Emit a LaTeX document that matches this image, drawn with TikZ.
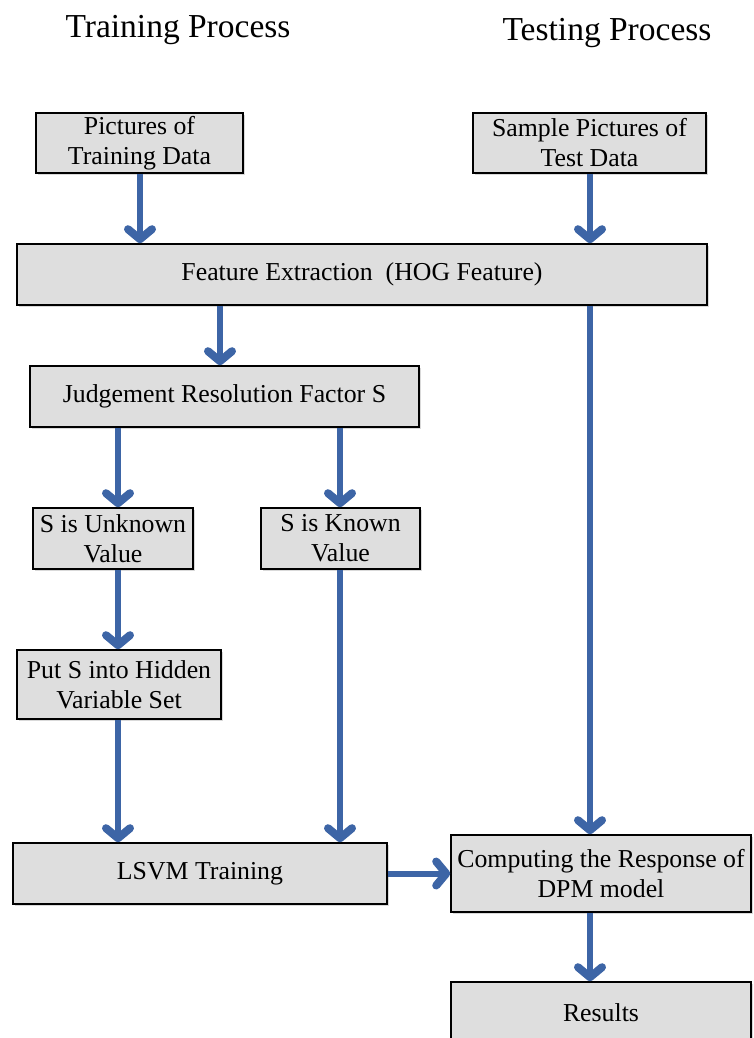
\documentclass[tikz,border=0pt]{standalone}
\usepackage{fontspec}
\setmainfont{Liberation Serif}
\usetikzlibrary{arrows.meta,shadows}
\definecolor{arrowblue}{RGB}{61,101,166}
\definecolor{boxgray}{RGB}{222,222,222}
\newcommand\myboxfont{\fontsize{25.8}{30}\selectfont}
\newcommand\mytitlefont{\fontsize{33.5}{38}\selectfont}
\tikzset{
  box/.style={draw=black, line width=1.6pt, fill=boxgray, inner sep=0pt,
    align=center, font=\myboxfont,
    drop shadow={shadow xshift=2pt, shadow yshift=-2pt, opacity=0.3}},
  flow/.style={draw=arrowblue, line width=6pt,
    -{Straight Barb[length=10pt,width=24pt,line width=8pt,round]}},
  ttl/.style={anchor=base, inner sep=0pt, font=\mytitlefont}
}
\begin{document}
\begin{tikzpicture}[x=1pt,y=-1pt]
\useasboundingbox (0,0) rectangle (754,1038);
\clip (0,0) rectangle (754,1038);
% titles
\node[ttl] (ttrain) at (178,38) {Training Process};
\node[ttl] (ttest) at (607,41) {Testing Process};
% boxes
\node[box, minimum width=207pt, minimum height=60pt] (train) at (139.5,143) {Pictures of\\Training Data};
\node[box, minimum width=233pt, minimum height=60pt] (test) at (589.5,143) {Sample Pictures of\\Test Data};
\node[box, minimum width=690pt, minimum height=61pt] (feat) at (362,274.5) {Feature Extraction~ (HOG Feature)};
\node[box, minimum width=389pt, minimum height=61pt] (judge) at (224.5,396.5) {Judgement Resolution Factor S};
\node[box, minimum width=160pt, minimum height=61pt] (unk) at (113,538.5) {S is Unknown\\Value};
\node[box, minimum width=159pt, minimum height=61pt] (known) at (340.5,538.5) {S is Known\\Value};
\node[box, minimum width=204pt, minimum height=69pt] (hidden) at (119,684.5) {Put S into Hidden\\Variable Set};
\node[box, minimum width=374pt, minimum height=61pt] (lsvm) at (200,873.5) {LSVM Training};
\node[box, minimum width=300pt, minimum height=77pt] (comp) at (601,873.5) {Computing the Response of\\DPM model};
\node[box, minimum width=300pt, minimum height=61pt] (res) at (601,1012.5) {Results};
% arrow columns
\coordinate (cA) at (140,0);
\coordinate (cB) at (590,0);
\coordinate (cC) at (220,0);
\coordinate (cD) at (118,0);
\coordinate (cE) at (340,0);
% connectors
\draw[flow] (train.south -| cA) -- (feat.north -| cA);
\draw[flow] (test.south -| cB) -- (feat.north -| cB);
\draw[flow] (feat.south -| cC) -- (judge.north -| cC);
\draw[flow] (feat.south -| cB) -- (comp.north -| cB);
\draw[flow] (judge.south -| cD) -- (unk.north -| cD);
\draw[flow] (judge.south -| cE) -- (known.north -| cE);
\draw[flow] (unk.south -| cD) -- (hidden.north -| cD);
\draw[flow] (hidden.south -| cD) -- (lsvm.north -| cD);
\draw[flow] (known.south -| cE) -- (lsvm.north -| cE);
\draw[flow] (lsvm.east) -- (comp.west);
\draw[flow] (comp.south -| cB) -- (res.north -| cB);
\end{tikzpicture}
\end{document}
